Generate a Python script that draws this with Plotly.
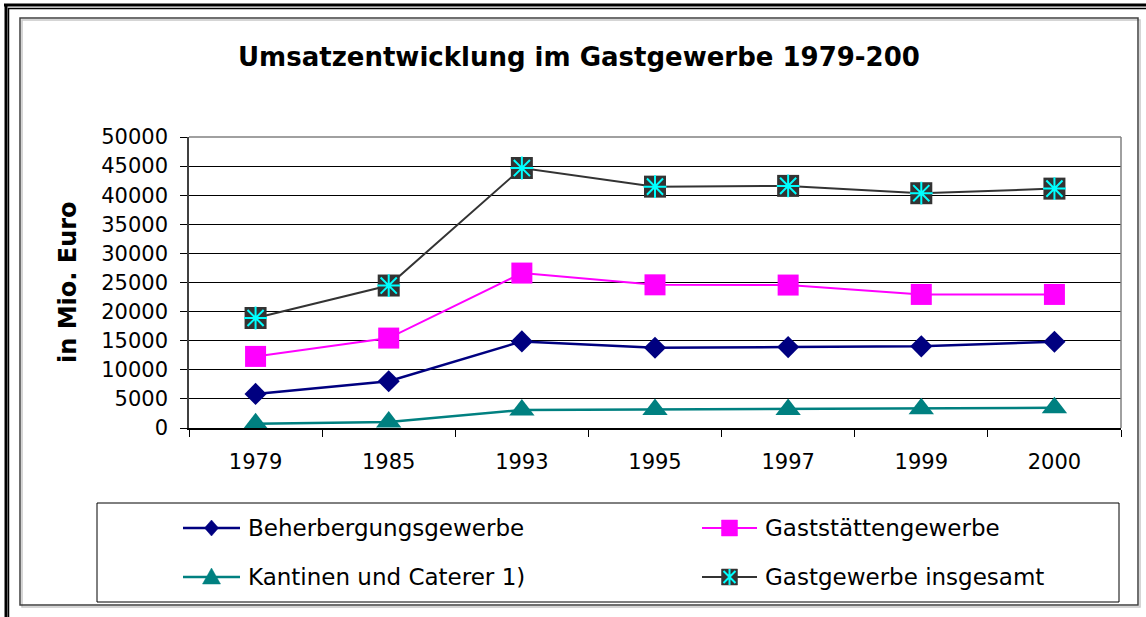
import plotly.graph_objects as go

# ---- data ----
years = ['1979', '1985', '1993', '1995', '1997', '1999', '2000']
beherbergung = [5860, 8030, 14880, 13800, 13900, 14030, 14830]
gaststaetten = [12300, 15450, 26620, 24600, 24560, 22950, 22950]
kantinen = [740, 1030, 3100, 3190, 3200, 3300, 3460]
gesamt = [18900, 24480, 44670, 41470, 41600, 40340, 41130]

names = ['Beherbergungsgewerbe', 'Gaststättengewerbe', 'Kantinen und Caterer 1)', 'Gastgewerbe insgesamt']
title_text = 'Umsatzentwicklung im Gastgewerbe 1979-200'
ytitle = 'in Mio. Euro'
y_ticks = list(range(0, 50001, 5000))
y_ticktext = [str(v) for v in y_ticks]

W, H = 1146, 617
FONT = 'DejaVu Sans'
# plot area in pixels
PL, PR, PT, PB = 189, 1121, 137, 428


def px(x):
    return (x - PL) / (PR - PL)


def py(y):
    return (PB - y) / (PB - PT)


NAVY, MAG, TEAL, DARK, CYAN = '#000080', '#FF00FF', '#008080', '#333333', '#00FFFF'

fig = go.Figure()

# ---- main series ----
fig.add_trace(go.Scatter(x=years, y=beherbergung, mode='lines+markers', name=names[0],
                         line=dict(color=NAVY, width=2.5),
                         marker=dict(symbol='diamond', size=17, color=NAVY)))
fig.add_trace(go.Scatter(x=years, y=gaststaetten, mode='lines+markers', name=names[1],
                         line=dict(color=MAG, width=2),
                         marker=dict(symbol='square', size=21, color=MAG)))
fig.add_trace(go.Scatter(x=years, y=kantinen, mode='lines+markers', name=names[2],
                         line=dict(color=TEAL, width=2.5),
                         marker=dict(symbol='triangle-up', size=22, color=TEAL)))
fig.add_trace(go.Scatter(x=years, y=gesamt, mode='lines+markers', name=names[3],
                         line=dict(color=DARK, width=2),
                         marker=dict(symbol='square', size=22, color=DARK)))
fig.add_trace(go.Scatter(x=years, y=gesamt, mode='markers', showlegend=False, hoverinfo='skip',
                         marker=dict(symbol='asterisk-open', size=19, color=CYAN,
                                     line=dict(color=CYAN, width=2))))

shapes = [
    # outer double border (top, left)
    dict(type='line', x0=px(4), x1=px(W), y0=py(5), y1=py(5), line=dict(color='black', width=3)),
    dict(type='line', x0=px(8), x1=px(W), y0=py(8.5), y1=py(8.5), line=dict(color='black', width=1.5)),
    dict(type='line', x0=px(6), x1=px(6), y0=py(4), y1=py(H), line=dict(color='black', width=3)),
    dict(type='line', x0=px(8.5), x1=px(8.5), y0=py(8), y1=py(H), line=dict(color='black', width=1.5)),
    # inner chart frame with light shadow
    dict(type='rect', x0=px(22), x1=px(1140), y0=py(20), y1=py(607), line=dict(color='#c8c8c8', width=1.5)),
    dict(type='rect', x0=px(20), x1=px(1138), y0=py(18), y1=py(605), line=dict(color='#404040', width=1.5)),
    # legend box
    dict(type='rect', x0=px(97), x1=px(1119), y0=py(503), y1=py(602), line=dict(color='black', width=1)),
    # plot area top / right border (gray)
    dict(type='line', x0=0, x1=1, y0=1, y1=1, line=dict(color='#808080', width=1.5), layer='above'),
    dict(type='line', x0=1, x1=1, y0=0, y1=1, line=dict(color='#808080', width=1.5), layer='above'),
]
for s in shapes:
    s.update(xref='paper', yref='paper')

# ---- manual legend (shapes sized in pixels + annotations) ----
leg_items = [
    (names[0], NAVY, 'diamond', 2.5, 183, 240, 528),
    (names[1], MAG, 'square', 2, 702, 757, 528),
    (names[2], TEAL, 'triangle', 2.5, 183, 240, 577),
    (names[3], DARK, 'gesamt', 2, 702, 757, 577),
]
marker_paths = {
    'diamond': 'M 0 8 L 7 0 L 0 -8 L -7 0 Z',
    'square': 'M -8 -8 L 8 -8 L 8 8 L -8 8 Z',
    'triangle': 'M -9 -7 L 9 -7 L 0 9 Z',
    'gesamt': 'M -8 -8 L 8 -8 L 8 8 L -8 8 Z',
}
annotations = []
for name, col, sym, lw, x0, x1, yr in leg_items:
    xm = (x0 + x1) / 2
    shapes.append(dict(type='line', xref='paper', yref='paper', x0=px(x0), x1=px(x1), y0=py(yr), y1=py(yr),
                       line=dict(color=col, width=lw)))
    shapes.append(dict(type='path', xref='paper', yref='paper', xsizemode='pixel', ysizemode='pixel',
                       xanchor=px(xm), yanchor=py(yr), path=marker_paths[sym],
                       fillcolor=col, line=dict(color=col, width=0.5)))
    if sym == 'gesamt':
        shapes.append(dict(type='path', xref='paper', yref='paper', xsizemode='pixel', ysizemode='pixel',
                           xanchor=px(xm), yanchor=py(yr),
                           path='M 0 -8 L 0 8 M -6 -6 L 6 6 M -6 6 L 6 -6',
                           line=dict(color=CYAN, width=2)))
    annotations.append(dict(x=px(x1 + 6), y=py(yr), xref='paper', yref='paper', text=name, showarrow=False,
                            xanchor='left', yanchor='middle', font=dict(family=FONT, size=23, color='black')))

# title and y-axis title
annotations.append(dict(x=px(579), y=py(57), xref='paper', yref='paper', text=title_text, showarrow=False,
                        xanchor='center', yanchor='middle',
                        font=dict(family=FONT, size=26, color='black', weight='bold')))
annotations.append(dict(x=px(68), y=py(282), xref='paper', yref='paper', text=ytitle, showarrow=False,
                        textangle=-90, xanchor='center', yanchor='middle',
                        font=dict(family=FONT, size=24, color='black', weight='bold')))

fig.update_layout(
    width=W, height=H, autosize=False,
    margin=dict(l=PL, r=W - PR, t=PT, b=H - PB, pad=0),
    paper_bgcolor='white', plot_bgcolor='white',
    showlegend=False,
    font=dict(family=FONT, size=21, color='black'),
    xaxis=dict(type='category', tickson='boundaries',
               ticks='outside', ticklen=7, tickcolor='black', tickwidth=1,
               showline=True, linecolor='black', linewidth=1.5, showgrid=False,
               tickfont=dict(family=FONT, size=21, color='black'),
               ticklabelstandoff=14,
               range=[-0.5, 6.5], fixedrange=True, automargin=False),
    yaxis=dict(range=[0, 50000], tickvals=y_ticks, ticktext=y_ticktext,
               ticks='outside', ticklen=7, tickcolor='black', tickwidth=1,
               showline=True, linecolor='#404040', linewidth=1.5,
               showgrid=True, gridcolor='black', gridwidth=1, zeroline=False,
               tickfont=dict(family=FONT, size=21, color='black'),
               ticklabelstandoff=8,
               fixedrange=True, automargin=False),
    annotations=annotations,
    shapes=shapes,
)

fig.write_html('out.html', config={'displayModeBar': False},
               post_script="document.body.style.margin='0';")
